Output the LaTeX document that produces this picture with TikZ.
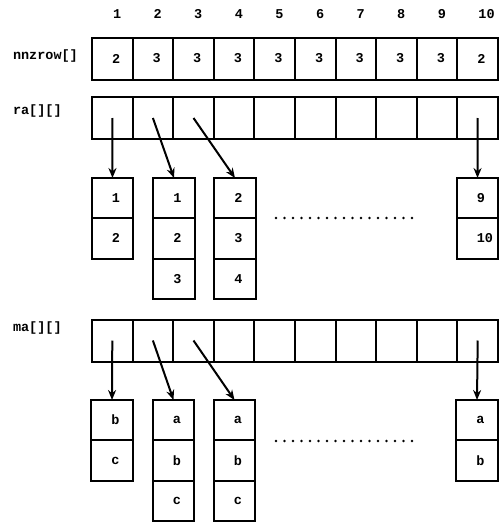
\documentclass[tikz,border=0pt]{standalone}
\usepackage{fontspec}
\setmonofont{Liberation Mono}
\usetikzlibrary{arrows.meta, positioning}
\tikzset{
  every picture/.style={font=\ttfamily\bfseries\fontsize{13.5}{16}\selectfont, line width=2pt},
  cell/.style={draw, minimum width=40.6pt, minimum height=42pt, inner sep=0pt, outer sep=0pt,
    text width=40.6pt, align=left, execute at begin node=\hspace*{20pt}},
  colcell/.style={cell, minimum width=41.5pt, text width=41.5pt, minimum height=40.3pt},
  head/.style={anchor=west, inner sep=0pt},
  rowlabel/.style={anchor=west, inner sep=0pt},
  ptr/.style={-{Stealth[length=10pt, width=8pt]}, line width=2pt},
  dots/.style={dash pattern=on 0pt off 8.5pt, line cap=round, line width=2.6pt},
}

\begin{document}
\begin{tikzpicture}[x=1pt, y=-1pt]
  \useasboundingbox (0,0) rectangle (500,522);
  % row arrays
  \node[rowlabel] (lnz) at (12,56) {nnzrow[]};
  \node[rowlabel] (lra) at (12,111) {ra[][]};
  \node[rowlabel] (lma) at (12,328) {ma[][]};
  \foreach \v [count=\i] in {2,3,3,3,3,3,3,3,3,2} {
    \node[head] (h\i) at ({112+40.6*(\i-1)}, 14) {\i};
    \node[cell] (nz\i) at ({112.3+40.6*(\i-1)}, 58.5) {\v};
    \node[cell] (ra\i) at ({112.3+40.6*(\i-1)}, 118) {};
    \node[cell] (ma\i) at ({112.3+40.6*(\i-1)}, 340.5) {};
  }
  % ra columns
  \node[colcell, anchor=north] (rb1a) at (112.5,178) {1};
  \node[colcell, below=0pt of rb1a] (rb1b) {2};
  \node[colcell, anchor=north] (rb2a) at (174,178) {1};
  \node[colcell, below=0pt of rb2a] (rb2b) {2};
  \node[colcell, below=0pt of rb2b] (rb2c) {3};
  \node[colcell, anchor=north] (rb3a) at (235,178) {2};
  \node[colcell, below=0pt of rb3a] (rb3b) {3};
  \node[colcell, below=0pt of rb3b] (rb3c) {4};
  \node[colcell, anchor=north] (rb10a) at (477.5,178) {9};
  \node[colcell, below=0pt of rb10a] (rb10b) {10};
  \draw[ptr] (ra1.center) -- (rb1a.north);
  \draw[ptr] (ra2.center) -- (rb2a.north);
  \draw[ptr] (ra3.center) -- (rb3a.north);
  \draw[ptr] (ra10.center) -- (rb10a.north);
  \coordinate (rdl) at (276,218);
  \coordinate (rdr) at (417,218);
  \draw[dots] (rdl) -- (rdr);
  % ma columns
  \node[colcell, anchor=north] (mb1a) at (112,400) {b};
  \node[colcell, below=0pt of mb1a] (mb1b) {c};
  \node[colcell, anchor=north] (mb2a) at (173.5,400) {a};
  \node[colcell, below=0pt of mb2a] (mb2b) {b};
  \node[colcell, below=0pt of mb2b] (mb2c) {c};
  \node[colcell, anchor=north] (mb3a) at (234.5,400) {a};
  \node[colcell, below=0pt of mb3a] (mb3b) {b};
  \node[colcell, below=0pt of mb3b] (mb3c) {c};
  \node[colcell, anchor=north] (mb10a) at (477,400) {a};
  \node[colcell, below=0pt of mb10a] (mb10b) {b};
  \draw[ptr] (ma1.center) -- (mb1a.north);
  \draw[ptr] (ma2.center) -- (mb2a.north);
  \draw[ptr] (ma3.center) -- (mb3a.north);
  \draw[ptr] (ma10.center) -- (mb10a.north);
  \coordinate (mdl) at (276,441);
  \coordinate (mdr) at (417,441);
  \draw[dots] (mdl) -- (mdr);
\end{tikzpicture}
\end{document}
